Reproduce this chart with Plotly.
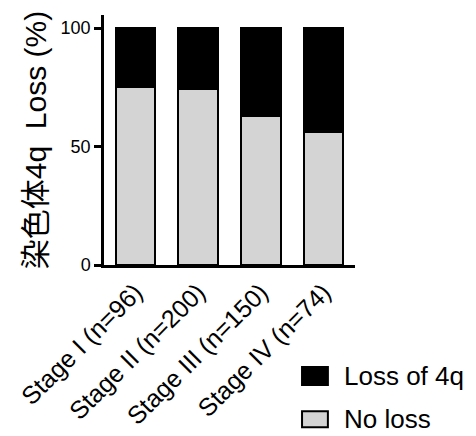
import plotly.graph_objects as go

categories = ["Stage I (n=96)", "Stage II (n=200)", "Stage III (n=150)", "Stage IV (n=74)"]
no_loss = [75.2, 74.3, 62.7, 56.0]
loss_4q = [round(100 - v, 1) for v in no_loss]
y_ticks = [0, 50, 100]
legend_labels = ["Loss of 4q", "No loss"]
colors = {"Loss of 4q": "#000000", "No loss": "#d4d4d4"}

FONT = "Arial, 'Liberation Sans', 'Noto Sans CJK SC', sans-serif"

fig = go.Figure()
fig.add_trace(go.Bar(x=categories, y=no_loss, name="No loss",
                     marker=dict(color=colors["No loss"], line=dict(color="black", width=2)),
                     showlegend=False))
fig.add_trace(go.Bar(x=categories, y=loss_4q, name="Loss of 4q",
                     marker=dict(color=colors["Loss of 4q"], line=dict(color="black", width=2)),
                     showlegend=False))

# manual legend (large swatches as in reference)
sw = [(-0.408, -0.48), (-0.585, -0.649)]
for (y0, y1), lab in zip(sw, legend_labels):
    fig.add_shape(type="rect", xref="paper", yref="paper", x0=0.789, x1=0.892, y0=y1, y1=y0,
                  fillcolor=colors[lab], line=dict(color="black", width=2))
    fig.add_annotation(xref="paper", yref="paper", x=0.948, y=(y0 + y1) / 2, text=lab,
                       showarrow=False, xanchor="left", yanchor="middle",
                       font=dict(size=26, color="black", family=FONT))

# page body has an 8px margin, so the figure is sized/offset to compensate
fig.update_layout(
    barmode="stack",
    bargap=0.37,
    width=468, height=428,
    margin=dict(l=96, r=121, t=7, b=171),
    plot_bgcolor="white", paper_bgcolor="white",
    font=dict(family=FONT, color="black"),
    showlegend=False,
)
fig.update_xaxes(showline=True, linecolor="black", linewidth=2.5, ticks="", tickangle=-45,
                 tickfont=dict(size=25), showgrid=False, zeroline=False, range=[-0.5, 3.5],
                 automargin=False)
fig.update_yaxes(showline=True, linecolor="black", linewidth=2.5, ticks="outside", ticklen=7,
                 tickwidth=2.5, tickcolor="black", tickvals=y_ticks, tickfont=dict(size=18),
                 range=[0, 105.5], showgrid=False, zeroline=False, automargin=False,
                 title=dict(text="染色体4q  Loss (%)", font=dict(size=30), standoff=6))

fig.write_html("out.html")
